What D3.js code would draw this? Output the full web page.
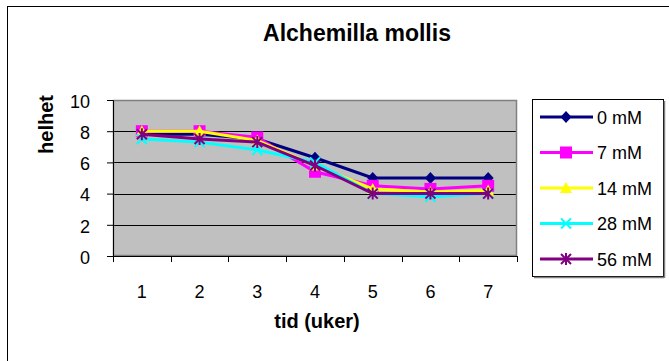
<!DOCTYPE html>
<html lang="en">
<head>
  <meta charset="UTF-8">
  <style>
    body { margin: 0; overflow: hidden; background: #fff; }
    svg { display: block; font-family: "Liberation Sans", Arial, sans-serif; }
  </style>
  <script src="https://d3js.org/d3.v7.min.js"></script>
</head>
<body>
<svg id="chart"></svg>
<script>
  // data
  const weeks = [1, 2, 3, 4, 5, 6, 7];
  const seriesNames = ["0 mM", "7 mM", "14 mM", "28 mM", "56 mM"];
  const mM0  = [7.8, 7.8, 7.5, 6.3, 5.0, 5.0, 5.0];
  const mM7  = [8.0, 8.0, 7.6, 5.4, 4.5, 4.3, 4.5];
  const mM14 = [8.0, 8.0, 7.4, 5.8, 4.3, 4.1, 4.2];
  const mM28 = [7.5, 7.3, 6.8, 6.0, 4.0, 3.8, 4.0];
  const mM56 = [7.8, 7.5, 7.3, 5.8, 4.0, 4.0, 4.0];
  const yTicks = [0, 2, 4, 6, 8, 10];

  const seriesValues = [mM0, mM7, mM14, mM28, mM56];
  const colors = ["#000080", "#ff00ff", "#ffff00", "#00ffff", "#800080"];
  const markers = ["diamond", "square", "triangle", "cross", "star"];

  const W = 669, H = 361;
  const plot = { left: 113, right: 517, top: 100, bottom: 256 };

  const svg = d3.select("#chart").attr("width", W).attr("height", H);

  // outer chart border
  svg.append("rect")
    .attr("x", 7.5).attr("y", 6.5)
    .attr("width", 720).attr("height", 420)
    .attr("fill", "#fff").attr("stroke", "#000").attr("stroke-width", 1);

  const x = d3.scaleBand().domain(weeks).range([plot.left, plot.right]);
  const y = d3.scaleLinear().domain([0, 10]).range([plot.bottom, plot.top]);

  // plot background
  svg.append("rect")
    .attr("x", plot.left).attr("y", plot.top)
    .attr("width", plot.right - plot.left).attr("height", plot.bottom - plot.top)
    .attr("fill", "#c0c0c0");

  // gridlines
  svg.append("g").selectAll("line")
    .data(yTicks.filter(t => t > 0 && t < 10))
    .join("line")
    .attr("x1", plot.left).attr("x2", plot.right)
    .attr("y1", d => Math.round(y(d)) + 0.5).attr("y2", d => Math.round(y(d)) + 0.5)
    .attr("stroke", "#000").attr("stroke-width", 1);

  // plot border (gray)
  svg.append("rect")
    .attr("x", plot.left + 0.5).attr("y", plot.top + 0.5)
    .attr("width", plot.right - plot.left - 1).attr("height", plot.bottom - plot.top - 1)
    .attr("fill", "none").attr("stroke", "#808080").attr("stroke-width", 1.5);

  // y axis
  const yAxis = svg.append("g")
    .attr("transform", `translate(${plot.left},0)`)
    .call(d3.axisLeft(y).tickValues(yTicks).tickSize(6).tickPadding(17));
  yAxis.select(".domain").attr("stroke", "#000");
  yAxis.selectAll(".tick line").attr("stroke", "#000");
  yAxis.selectAll("text")
    .attr("font-size", 18).attr("font-family", "Liberation Sans, Arial").attr("fill", "#000")
    .attr("dy", "0.4em");

  // x axis: ticks on category boundaries
  const xAxisG = svg.append("g").attr("transform", `translate(0,${plot.bottom})`);
  xAxisG.append("line")
    .attr("x1", plot.left).attr("x2", plot.right).attr("y1", 0.5).attr("y2", 0.5)
    .attr("stroke", "#000");
  const bounds = weeks.map(w => x(w)).concat([plot.right]);
  xAxisG.selectAll("line.tk").data(bounds).join("line")
    .attr("class", "tk")
    .attr("x1", d => Math.round(d) + 0.5).attr("x2", d => Math.round(d) + 0.5)
    .attr("y1", 0).attr("y2", 6).attr("stroke", "#000");
  xAxisG.selectAll("text").data(weeks).join("text")
    .attr("x", d => x(d) + x.bandwidth() / 2)
    .attr("y", 42)
    .attr("text-anchor", "middle")
    .attr("font-size", 18)
    .text(d => d);

  // titles
  svg.append("text")
    .attr("x", 357).attr("y", 41)
    .attr("text-anchor", "middle")
    .attr("font-size", 23).attr("font-weight", "bold")
    .text("Alchemilla mollis");

  svg.append("text")
    .attr("x", 317).attr("y", 328)
    .attr("text-anchor", "middle")
    .attr("font-size", 20).attr("font-weight", "bold")
    .text("tid (uker)");

  svg.append("text")
    .attr("transform", "translate(53,124.5) rotate(-90)")
    .attr("text-anchor", "middle")
    .attr("font-size", 20).attr("font-weight", "bold")
    .text("helhet");

  // marker drawing
  function drawMarker(g, type, color, cx, cy) {
    if (type === "diamond") {
      g.append("path")
        .attr("d", `M${cx},${cy - 6}L${cx + 5.5},${cy}L${cx},${cy + 6}L${cx - 5.5},${cy}Z`)
        .attr("fill", color);
    } else if (type === "square") {
      g.append("rect")
        .attr("x", cx - 6).attr("y", cy - 6).attr("width", 12).attr("height", 12)
        .attr("fill", color);
    } else if (type === "triangle") {
      g.append("path")
        .attr("d", `M${cx},${cy - 6}L${cx + 6},${cy + 5}L${cx - 6},${cy + 5}Z`)
        .attr("fill", color);
    } else if (type === "cross") {
      g.append("path")
        .attr("d", `M${cx - 5},${cy - 5}L${cx + 5},${cy + 5}M${cx - 5},${cy + 5}L${cx + 5},${cy - 5}`)
        .attr("stroke", color).attr("stroke-width", 2);
    } else if (type === "star") {
      g.append("path")
        .attr("d", `M${cx - 5},${cy - 5}L${cx + 5},${cy + 5}M${cx - 5},${cy + 5}L${cx + 5},${cy - 5}M${cx},${cy - 6}L${cx},${cy + 6}`)
        .attr("stroke", color).attr("stroke-width", 2);
    }
  }

  // series
  const line = d3.line()
    .x((d, i) => x(weeks[i]) + x.bandwidth() / 2)
    .y(d => y(d));

  seriesValues.forEach((vals, s) => {
    const g = svg.append("g");
    g.append("path")
      .attr("d", line(vals))
      .attr("fill", "none")
      .attr("stroke", colors[s])
      .attr("stroke-width", 3);
    vals.forEach((v, i) => drawMarker(g, markers[s], colors[s], x(weeks[i]) + x.bandwidth() / 2, y(v)));
  });

  // legend
  const legend = svg.append("g");
  legend.append("rect")
    .attr("x", 532.5).attr("y", 99.5).attr("width", 131).attr("height", 177)
    .attr("fill", "#fff").attr("stroke", "#000").attr("stroke-width", 1);
  legend.append("line")
    .attr("x1", 534).attr("x2", 664).attr("y1", 277.5).attr("y2", 277.5)
    .attr("stroke", "#808080").attr("stroke-width", 1.5);
  legend.append("line")
    .attr("x1", 664.5).attr("x2", 664.5).attr("y1", 101).attr("y2", 278)
    .attr("stroke", "#808080").attr("stroke-width", 1.5);

  seriesNames.forEach((name, s) => {
    const ly = 117 + s * 35.5;
    const g = legend.append("g");
    g.append("line")
      .attr("x1", 540).attr("x2", 593).attr("y1", ly).attr("y2", ly)
      .attr("stroke", colors[s]).attr("stroke-width", 3);
    drawMarker(g, markers[s], colors[s], 566, ly);
    g.append("text")
      .attr("x", 597).attr("y", ly + 6.5)
      .attr("font-size", 18)
      .text(name);
  });
</script>
</body>
</html>
